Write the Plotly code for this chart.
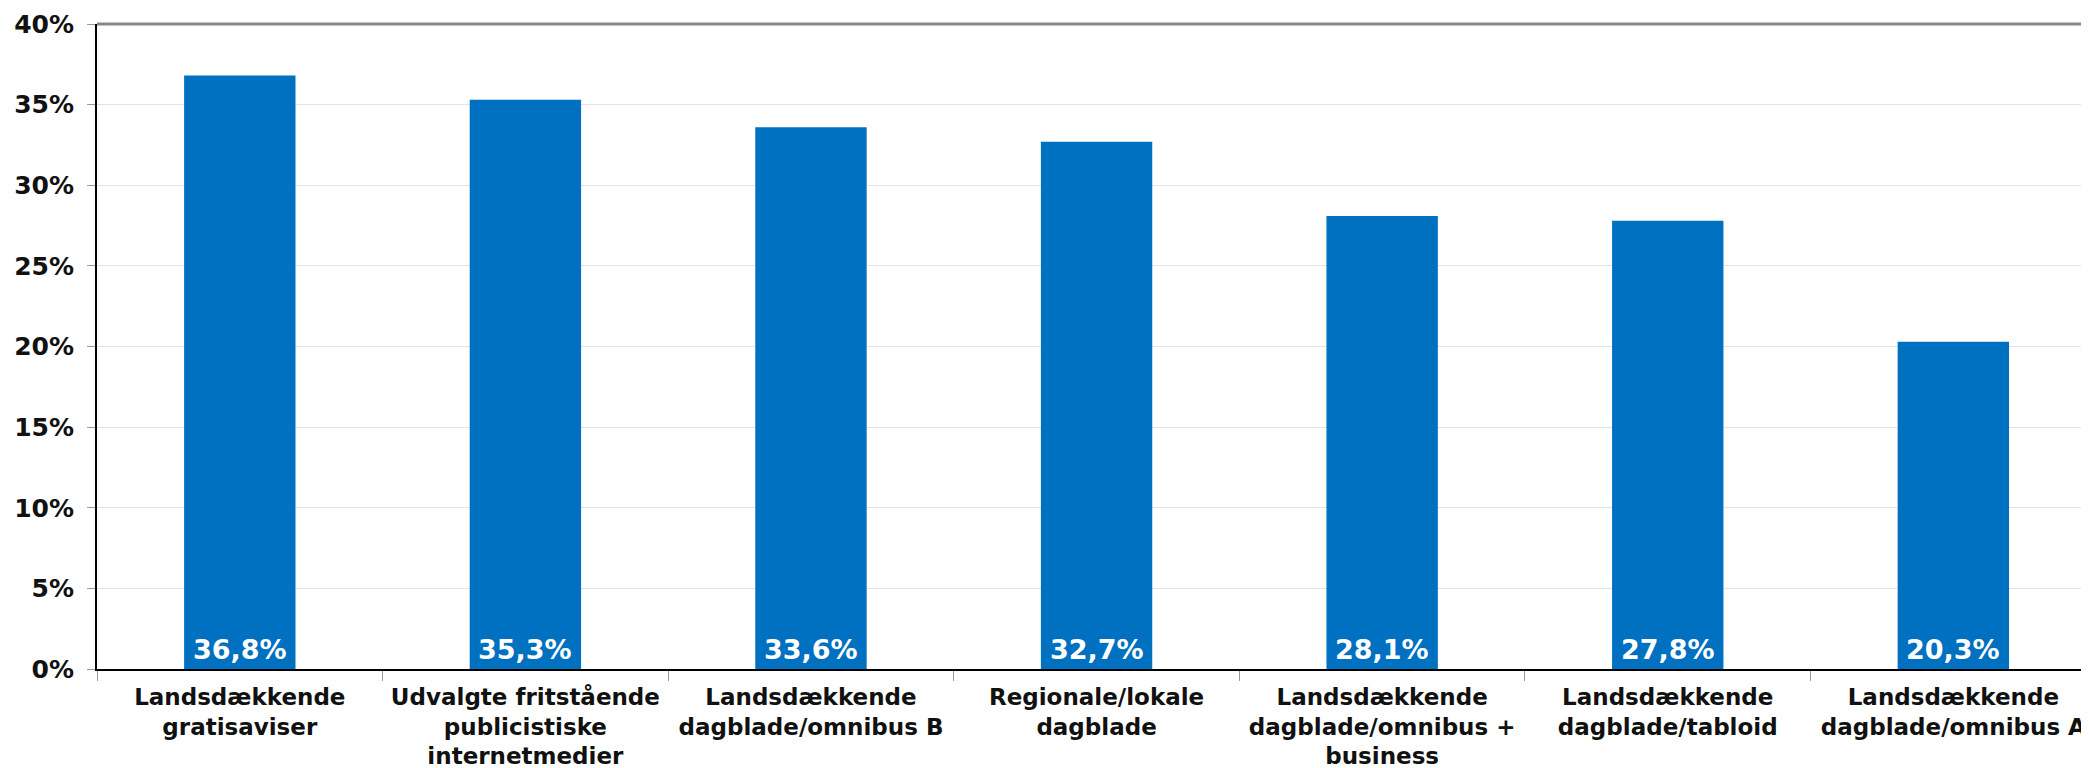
import plotly.graph_objects as go

categories = [
    "Landsdækkende<br>gratisaviser",
    "Udvalgte fritstående<br>publicistiske<br>internetmedier",
    "Landsdækkende<br>dagblade/omnibus B",
    "Regionale/lokale<br>dagblade",
    "Landsdækkende<br>dagblade/omnibus +<br>business",
    "Landsdækkende<br>dagblade/tabloid",
    "Landsdækkende<br>dagblade/omnibus A",
]
values = [36.8, 35.3, 33.6, 32.7, 28.1, 27.8, 20.3]
labels = [f"{v:.1f}%".replace(".", ",") for v in values]
tick_vals = [0, 5, 10, 15, 20, 25, 30, 35, 40]
tick_text = [f"{t}%" for t in tick_vals]

FONT = "DejaVu Sans, Verdana, sans-serif"

fig = go.Figure(go.Bar(
    x=categories, y=values, width=0.39,
    marker=dict(color="#0070C0", line=dict(width=0)),
    hoverinfo="x+y",
))

for c, lab in zip(categories, labels):
    fig.add_annotation(x=c, y=0, text=lab, showarrow=False, xref="x", yref="y",
                       yanchor="bottom", yshift=2,
                       font=dict(family=FONT, size=27, color="white", weight="bold"))

fig.update_layout(
    width=2081, height=760,
    margin=dict(l=89, r=0, t=16, b=99),
    plot_bgcolor="white", paper_bgcolor="white",
    showlegend=False,
)
fig.update_yaxes(
    range=[0, 40], tickvals=tick_vals, ticktext=tick_text,
    showgrid=True, gridcolor="#e3e3e3", gridwidth=1,
    showline=True, linecolor="black", linewidth=2,
    ticks="outside", ticklen=8, tickcolor="#999999",
    ticklabelstandoff=8,
    tickfont=dict(family=FONT, size=25, color="#111111", weight="bold"),
    zeroline=False, automargin=False,
)
fig.update_xaxes(
    showline=True, linecolor="black", linewidth=2,
    ticks="outside", tickson="boundaries", ticklen=10, tickcolor="#999999",
    ticklabelstandoff=6,
    tickfont=dict(family=FONT, size=23, color="#111111", weight="bold"),
    automargin=False, range=[-0.5, 6.475],
)
# top border line in gray
fig.add_shape(type="line", xref="paper", yref="paper", x0=0, x1=1, y0=1, y1=1,
              line=dict(color="#888888", width=3))

fig.write_html("out.html")
